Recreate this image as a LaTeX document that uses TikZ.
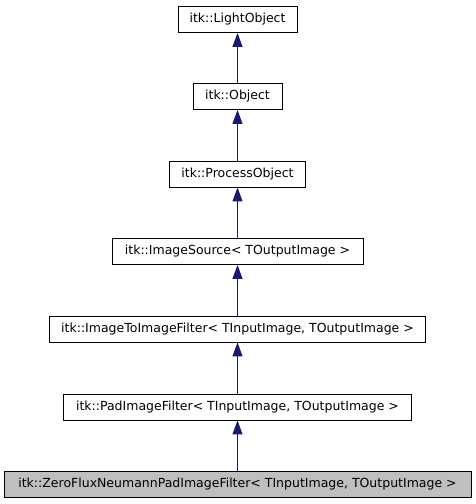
\documentclass[tikz,border=0pt]{standalone}
\usepackage{fontspec}
\setmainfont{DejaVu Sans}
\usetikzlibrary{arrows.meta}
\definecolor{edgeblue}{HTML}{191970}
\begin{document}
\begin{tikzpicture}[x=1pt,y=-1pt,
  cls/.style={draw=black,line width=0.9pt,fill=white,minimum height=26pt,inner xsep=0pt,font=\fontsize{12.5}{15}\selectfont},
  inh/.style={draw=edgeblue,line width=1pt,-{Triangle[length=14pt,width=10pt,fill=edgeblue]}}]
\useasboundingbox (0,0) rectangle (475,504);
\node[cls,minimum width=119pt] (lo) at (237.5,19.5) {itk::LightObject};
\node[cls,minimum width=89pt] (ob) at (237.5,96.5) {itk::Object};
\node[cls,minimum width=136pt] (po) at (237.5,174) {itk::ProcessObject};
\node[cls,minimum width=251pt] (is) at (237.5,251.5) {itk::ImageSource< TOutputImage >};
\node[cls,minimum width=376pt] (itf) at (237.5,329) {itk::ImageToImageFilter< TInputImage, TOutputImage >};
\node[cls,minimum width=348pt] (pad) at (237.5,407) {itk::PadImageFilter< TInputImage, TOutputImage >};
\node[cls,minimum width=467pt,fill={rgb,255:red,191;green,191;blue,191}] (zf) at (237.5,484) {itk::ZeroFluxNeumannPadImageFilter< TInputImage, TOutputImage >};
\draw[inh] (ob) -- (lo);
\draw[inh] (po) -- (ob);
\draw[inh] (is) -- (po);
\draw[inh] (itf) -- (is);
\draw[inh] (pad) -- (itf);
\draw[inh] (zf) -- (pad);
\end{tikzpicture}
\end{document}
